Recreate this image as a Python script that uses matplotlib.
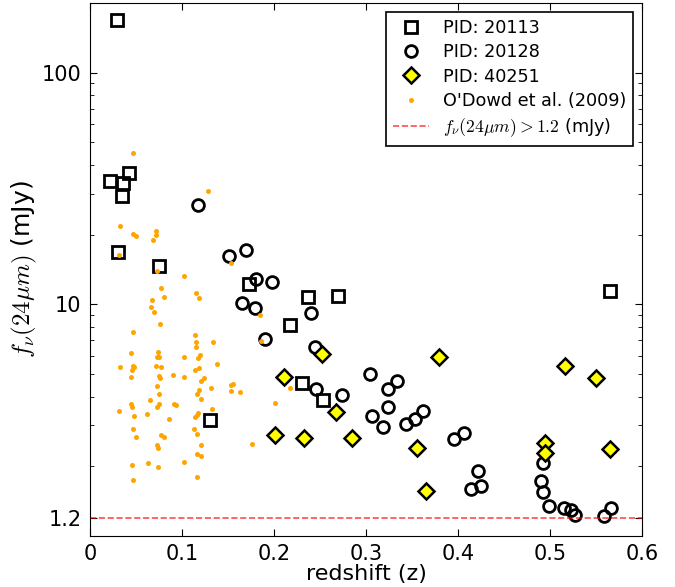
from matplotlib import pyplot as plt

plt.rcParams['mathtext.fontset'] = 'cm'
plt.rcParams['font.family'] = 'DejaVu Sans'

# PID 20113 (open squares)
sq_z = [0.029, 0.0218, 0.0362, 0.0424, 0.0351, 0.0301, 0.075, 0.1733, 0.237,
        0.2697, 0.2178, 0.231, 0.2537, 0.130, 0.565]
sq_f = [169, 34.2, 33.5, 37.0, 29.5, 16.9, 14.6, 12.3, 10.8,
        10.9, 8.15, 4.56, 3.87, 3.17, 11.4]

# PID 20128 (open circles)
ci_z = [0.1178, 0.1508, 0.1693, 0.1657, 0.1805, 0.198, 0.1798, 0.2407, 0.1907,
        0.2447, 0.2455, 0.2744, 0.3042, 0.3237, 0.3335, 0.307, 0.3237, 0.3183,
        0.344, 0.3538, 0.3625, 0.3955, 0.4067, 0.422, 0.4256, 0.4144, 0.493,
        0.4898, 0.493, 0.4992, 0.5151, 0.5231, 0.5275, 0.5583, 0.5663]
ci_f = [26.9, 16.2, 17.2, 10.1, 12.9, 12.5, 9.68, 9.14, 7.11,
        6.53, 4.32, 4.08, 4.99, 4.31, 4.69, 3.30, 3.59, 2.95,
        3.03, 3.21, 3.46, 2.61, 2.79, 1.905, 1.647, 1.59, 2.06,
        1.72, 1.55, 1.346, 1.316, 1.29, 1.23, 1.22, 1.316]

# PID 40251 (yellow diamonds)
di_z = [0.252, 0.2106, 0.2675, 0.2016, 0.233, 0.2853, 0.3796, 0.3556, 0.365,
        0.5166, 0.5503, 0.4941, 0.4941, 0.5648]
di_f = [6.09, 4.86, 3.42, 2.73, 2.65, 2.65, 5.91, 2.39, 1.57,
        5.42, 4.81, 2.51, 2.28, 2.38]

# O'Dowd et al. (2009)
od_z = [0.0471, 0.1287, 0.0326, 0.0464, 0.050, 0.0721, 0.0721, 0.0682, 0.0319, 0.0729,
        0.153, 0.1026, 0.0772, 0.1156, 0.1185, 0.0802, 0.0678, 0.0663, 0.0699, 0.0765,
        0.0468, 0.1139, 0.1156, 0.1334, 0.1153, 0.0446, 0.074, 0.0729, 0.075, 0.1026,
        0.1193, 0.1175, 0.1378, 0.0323, 0.0464, 0.0475, 0.0457, 0.0721, 0.0775, 0.1139,
        0.1182, 0.0446, 0.0754, 0.0761, 0.0903, 0.1026, 0.124, 0.121, 0.0725, 0.1316,
        0.153, 0.1552, 0.153, 0.1631, 0.1182, 0.1167, 0.0754, 0.0656, 0.121, 0.0446,
        0.046, 0.0747, 0.0732, 0.091, 0.0935, 0.0315, 0.0617, 0.0475, 0.0856, 0.1139,
        0.1167, 0.1178, 0.1327, 0.0468, 0.0504, 0.0769, 0.0802, 0.1131, 0.1164, 0.0725,
        0.074, 0.1204, 0.1164, 0.121, 0.046, 0.0634, 0.0736, 0.1022, 0.0468, 0.116,
        0.1852, 0.1856, 0.2175, 0.2009, 0.1765]
od_f = [44.8, 30.8, 21.8, 20.2, 19.7, 20.8, 20.0, 19.0, 16.3, 13.9,
        15.1, 13.3, 11.8, 11.2, 10.6, 10.8, 10.4, 9.77, 9.24, 8.22,
        7.57, 7.38, 6.86, 6.91, 6.54, 6.17, 6.25, 5.95, 5.93, 5.95,
        6.05, 5.87, 5.50, 5.37, 5.42, 5.34, 5.21, 5.44, 5.37, 5.21,
        5.30, 4.88, 4.91, 4.83, 4.94, 4.88, 4.80, 4.67, 4.43, 4.36,
        4.48, 4.55, 4.22, 4.19, 4.25, 4.11, 4.11, 3.88, 3.91, 3.71,
        3.60, 3.70, 3.59, 3.73, 3.67, 3.45, 3.35, 3.28, 3.20, 3.25,
        3.33, 3.41, 3.53, 2.91, 2.68, 2.74, 2.68, 2.89, 2.76, 2.47,
        2.39, 2.47, 2.25, 2.22, 2.02, 2.06, 1.98, 2.09, 1.74, 1.79,
        9.03, 6.97, 4.36, 3.75, 2.49]

f_cut = 1.2

fig = plt.figure(figsize=(6.75, 5.87), dpi=100)
ax = fig.add_axes([0.1333, 0.0869, 0.8177, 0.908])

ax.plot(sq_z, sq_f, ls='none', marker='s', ms=8, mfc='none', mec='black', mew=2,
        label='PID: 20113')
ax.plot(ci_z, ci_f, ls='none', marker='o', ms=8.5, mfc='none', mec='black', mew=2,
        label='PID: 20128')
ax.plot(di_z, di_f, ls='none', marker='D', ms=8, mfc='yellow', mec='black', mew=1.8,
        label='PID: 40251')
ax.plot(od_z, od_f, ls='none', marker='o', ms=3.6, mfc='orange', mec='none',
        label="O'Dowd et al. (2009)")
ax.axhline(f_cut, color='red', alpha=0.7, ls='--', lw=1.2,
           label=r'$f_{\nu}(24\mu m) > 1.2$ (mJy)')

ax.set_yscale('log')
ax.set_xlim(0, 0.6)
ax.set_ylim(1.0, 200)
ax.set_xticks([0, 0.1, 0.2, 0.3, 0.4, 0.5, 0.6])
ax.set_xticklabels(['0', '0.1', '0.2', '0.3', '0.4', '0.5', '0.6'])
ax.set_yticks([1.2, 10, 100])
ax.set_yticklabels(['1.2', '10', '100'])
ax.tick_params(which='both', direction='in', top=True, right=True, labelsize=15, pad=6)
ax.tick_params(which='major', length=5)
ax.tick_params(which='minor', length=3)

ax.set_xlabel('redshift (z)', fontsize=16, labelpad=0)
ax.set_ylabel(r'$f_{\nu}(24\mu m)$ (mJy)', fontsize=18, labelpad=2)

leg = ax.legend(loc='upper right', numpoints=1, fontsize=12.7, fancybox=False,
                framealpha=1, edgecolor='black', labelspacing=0.36, borderaxespad=0.5)
leg.get_frame().set_linewidth(1.2)

plt.savefig('out.png')
